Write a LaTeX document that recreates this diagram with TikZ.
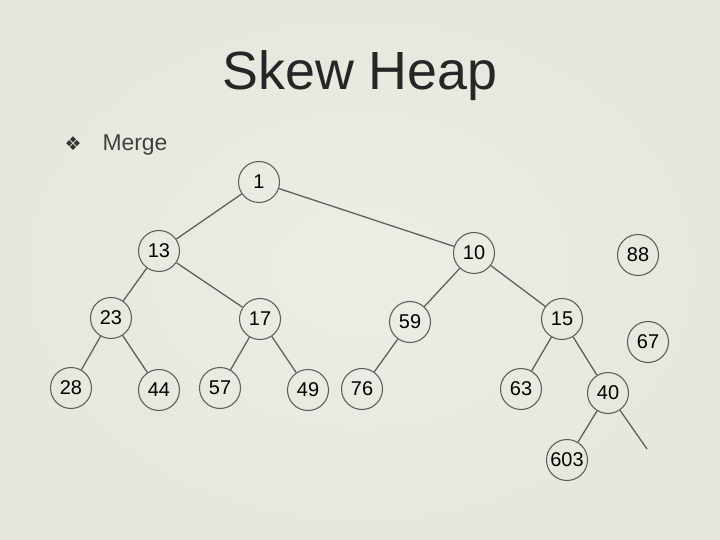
\documentclass[tikz,border=0pt]{standalone}
\usepackage{fontspec}
\setmainfont{Liberation Sans}
\newfontfamily\dejavu{DejaVu Sans}
\definecolor{fondo}{RGB}{237,237,229}
\definecolor{fondoborde}{RGB}{230,231,221}
\definecolor{trazo}{RGB}{95,95,95}
\tikzset{
  nodo/.style={circle,draw=trazo,line width=1.1pt,minimum size=41bp,inner sep=0pt,
    font=\fontsize{20}{20}\selectfont},
  arista/.style={draw=trazo,line width=1.3pt}
}

\begin{document}
\begin{tikzpicture}[x=1bp,y=-1bp]
    % fondo de la diapositiva
    \useasboundingbox (0,0) rectangle (720,540);
    \shade[inner color=fondo,outer color=fondoborde] (0,0) rectangle (720,540);
    % titulo y punto
    \node[font=\fontsize{54}{54}\selectfont,text=black!85] (titulo) at (360,76) {Skew Heap};
    \node[font=\dejavu\fontsize{19}{19}\selectfont,text=black!80] (vineta) at (73,144) {❖};
    \node[font=\fontsize{23}{23}\selectfont,text=black!75,anchor=west] (merge) at (99,145) {Merge};
    % raiz y primer nivel
    \node[nodo] (n1) at (259,182) {1};
    \node[nodo] (n13) at (159,251) {13};
    \node[nodo] (n10) at (474,253) {10};
    \node[nodo] (n88) at (638,255) {88};
    % segundo nivel
    \node[nodo] (n23) at (111,318) {23};
    \node[nodo] (n17) at (260,319) {17};
    \node[nodo] (n59) at (410,322) {59};
    \node[nodo] (n15) at (562,319) {15};
    \node[nodo] (n67) at (648,342) {67};
    % hojas
    \node[nodo] (n28) at (71,388) {28};
    \node[nodo] (n44) at (159,390) {44};
    \node[nodo] (n57) at (220,388) {57};
    \node[nodo] (n49) at (308,390) {49};
    \node[nodo] (n76) at (362,389) {76};
    \node[nodo] (n63) at (521,389) {63};
    \node[nodo] (n40) at (608,393) {40};
    \node[nodo] (n603) at (567,460) {603};
    \coordinate (suelto) at (647,449);
    % aristas del arbol
    \draw[arista] (n1) -- (n13);
    \draw[arista] (n1) -- (n10);
    \draw[arista] (n13) -- (n23);
    \draw[arista] (n13) -- (n17);
    \draw[arista] (n23) -- (n28);
    \draw[arista] (n23) -- (n44);
    \draw[arista] (n17) -- (n57);
    \draw[arista] (n17) -- (n49);
    \draw[arista] (n10) -- (n59);
    \draw[arista] (n10) -- (n15);
    \draw[arista] (n59) -- (n76);
    \draw[arista] (n15) -- (n63);
    \draw[arista] (n15) -- (n40);
    \draw[arista] (n40) -- (n603);
    \draw[arista] (n40) -- (suelto);
\end{tikzpicture}
\end{document}
